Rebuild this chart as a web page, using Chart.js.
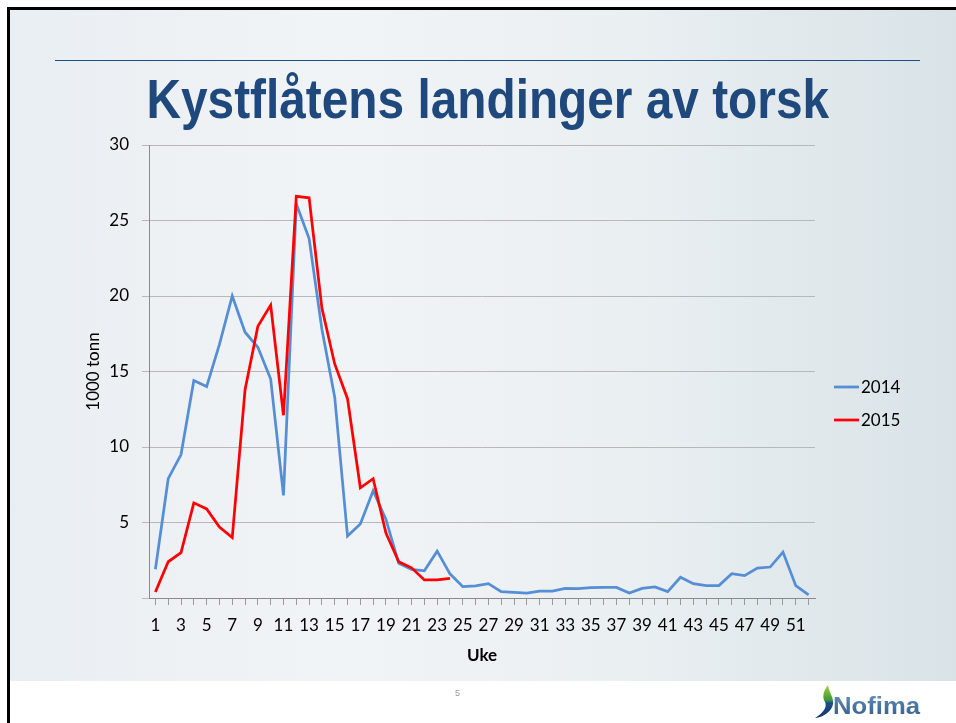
<!DOCTYPE html>
<html lang="no">
<head>
    <meta charset="UTF-8">
    <title>Kystflåtens landinger av torsk</title>
    <script src="https://cdn.jsdelivr.net/npm/chart.js"></script>
    <style>
        * {
            margin: 0;
            padding: 0;
            box-sizing: border-box;
        }
        body {
            width: 956px;
            height: 723px;
            background: #ffffff;
            position: relative;
            overflow: hidden;
            font-family: 'Liberation Sans', Arial, sans-serif;
        }
        .slide {
            position: absolute;
            left: 10px;
            top: 10px;
            width: 946px;
            height: 671px;
            background: linear-gradient(90deg, #e9eef2 0%, #f1f4f7 35%, #eaeff2 65%, #d9e3e7 100%);
        }
        .frame-top {
            position: absolute;
            left: 7px;
            top: 7px;
            width: 949px;
            height: 3px;
            background: #000;
        }
        .frame-left {
            position: absolute;
            left: 7px;
            top: 7px;
            width: 3px;
            height: 716px;
            background: #000;
        }
        .rule {
            position: absolute;
            left: 55px;
            top: 60px;
            width: 865px;
            height: 1px;
            background: #1f4e85;
        }
        .title {
            position: absolute;
            left: 10px;
            top: 67px;
            width: 956px;
            text-align: center;
            white-space: nowrap;
        }
        .title span {
            display: inline-block;
            font-weight: bold;
            font-size: 55px;
            color: #1f497d;
            transform-origin: center;
        }
        #chart {
            position: absolute;
            left: 0;
            top: 0;
        }
        .page-no {
            position: absolute;
            left: 455px;
            top: 688px;
            font-size: 9px;
            color: #999;
        }
        .logo {
            position: absolute;
            left: 812px;
            top: 683px;
        }
    </style>
</head>
<body>
    <div class="slide"></div>
    <div class="frame-top"></div>
    <div class="frame-left"></div>
    <div class="rule"></div>
    <div class="title"><span id="title">Kystflåtens landinger av torsk</span></div>
    <canvas id="chart" width="956" height="723"></canvas>
    <div class="page-no">5</div>
    <svg class="logo" width="115" height="38" viewBox="0 0 115 38">
        <defs>
            <linearGradient id="sw" x1="0" y1="0" x2="0" y2="1">
                <stop offset="0" stop-color="#a6d23c"/>
                <stop offset="0.45" stop-color="#3f9a3a"/>
                <stop offset="0.55" stop-color="#1b4f8a"/>
                <stop offset="1" stop-color="#0f3668"/>
            </linearGradient>
            <linearGradient id="tx" x1="0" y1="0" x2="0" y2="1">
                <stop offset="0" stop-color="#6a92bb"/>
                <stop offset="1" stop-color="#2f5a8a"/>
            </linearGradient>
        </defs>
        <path d="M16 2 C11 8 10 15 13 19 C15 23 13 29 3 35 C12 34 20 28 21 21 C22 14 17 10 16 2 Z" fill="url(#sw)"/>
        <text x="21" y="31" font-family="Liberation Sans, Arial" font-weight="bold" font-size="24" fill="url(#tx)" textLength="87" lengthAdjust="spacingAndGlyphs">Nofima</text>
    </svg>

    <script>
        // weeks (categories)
        const weeks = ['1', '2', '3', '4', '5', '6', '7', '8', '9', '10',
            '11', '12', '13', '14', '15', '16', '17', '18', '19', '20',
            '21', '22', '23', '24', '25', '26', '27', '28', '29', '30',
            '31', '32', '33', '34', '35', '36', '37', '38', '39', '40',
            '41', '42', '43', '44', '45', '46', '47', '48', '49', '50',
            '51', '52'];

        // landings, 1000 tonn
        const landings2014 = [1.9, 7.9, 9.5, 14.4, 14.0, 16.8, 20.0, 17.6, 16.6, 14.5,
            6.8, 26.1, 23.8, 17.8, 13.3, 4.1, 4.9, 7.1, 5.2, 2.3,
            1.9, 1.8, 3.1, 1.6, 0.75, 0.8, 0.95, 0.42, 0.37, 0.33,
            0.46, 0.46, 0.64, 0.62, 0.68, 0.7, 0.7, 0.33, 0.64, 0.73,
            0.42, 1.37, 0.95, 0.82, 0.82, 1.61, 1.48, 1.98, 2.05, 3.04,
            0.82, 0.2];
        const landings2015 = [0.4, 2.4, 3.0, 6.3, 5.9, 4.7, 4.0, 13.8, 18.0, 19.4,
            12.1, 26.6, 26.5, 19.2, 15.5, 13.2, 7.3, 7.9, 4.3, 2.4,
            2.0, 1.2, 1.2, 1.3];

        // y ticks; the 0 line has no label on the slide
        const yTicks = [0, 5, 10, 15, 20, 25, 30];
        const yLabels = ['', '5', '10', '15', '20', '25', '30'];

        // squeeze the title to the width it has on the slide
        const titleEl = document.getElementById('title');
        titleEl.style.transform = 'scaleX(' + (683 / titleEl.offsetWidth) + ')';

        const tickFont = { family: 'Lato, "Open Sans", sans-serif', size: 17 };

        // legend drawn at fixed spot right of the plot
        const sideLegend = {
            id: 'sideLegend',
            afterDraw(chart) {
                const ctx = chart.ctx;
                const rows = [{ ds: 0, y: 387 }, { ds: 1, y: 420 }];
                ctx.save();
                ctx.font = '17px Lato, "Open Sans", sans-serif';
                ctx.textBaseline = 'middle';
                ctx.fillStyle = '#000';
                rows.forEach(r => {
                    const d = chart.data.datasets[r.ds];
                    ctx.strokeStyle = d.borderColor;
                    ctx.lineWidth = 2.75;
                    ctx.beginPath();
                    ctx.moveTo(834, r.y);
                    ctx.lineTo(859, r.y);
                    ctx.stroke();
                    ctx.fillText(d.label, 861, r.y + 1);
                });
                ctx.restore();
            }
        };

        new Chart(document.getElementById('chart'), {
            type: 'line',
            data: {
                labels: weeks,
                datasets: [{
                    label: '2014',
                    data: landings2014,
                    borderColor: '#558ed5',
                    borderWidth: 2.75,
                    pointRadius: 0,
                    tension: 0,
                    order: 1
                }, {
                    label: '2015',
                    data: landings2015,
                    borderColor: '#ff0000',
                    borderWidth: 2.75,
                    pointRadius: 0,
                    tension: 0,
                    order: 0
                }]
            },
            options: {
                responsive: false,
                animation: false,
                layout: {
                    padding: { left: 80, top: 145, right: 141, bottom: 50 }
                },
                plugins: {
                    legend: { display: false },
                    tooltip: { enabled: false }
                },
                scales: {
                    x: {
                        offset: true,
                        afterFit(scale) { scale.height = 75; },
                        grid: {
                            drawOnChartArea: false,
                            drawTicks: true,
                            tickLength: 7,
                            color: '#9a9a9a'
                        },
                        border: { color: '#8a8a8a', width: 1 },
                        ticks: {
                            autoSkip: false,
                            maxRotation: 0,
                            padding: 10,
                            color: '#000',
                            font: tickFont,
                            callback(value, index) {
                                return index % 2 === 0 ? weeks[index] : '';
                            }
                        },
                        title: {
                            display: true,
                            text: 'Uke',
                            color: '#000',
                            font: { family: 'Lato, "Open Sans", sans-serif', size: 17, weight: 'bold' },
                            padding: { top: 0, bottom: 7 }
                        }
                    },
                    y: {
                        min: 0,
                        max: 30,
                        afterFit(scale) { scale.width = 69; },
                        afterBuildTicks(scale) {
                            scale.ticks = yTicks.map(v => ({ value: v }));
                        },
                        grid: {
                            color: '#b8b8b8',
                            lineWidth: 1,
                            tickLength: 7
                        },
                        border: { color: '#8a8a8a', width: 1 },
                        ticks: {
                            padding: 13,
                            color: '#000',
                            font: tickFont,
                            callback(value, index) {
                                return yLabels[index];
                            }
                        },
                        title: {
                            display: true,
                            text: '1000 tonn',
                            color: '#000',
                            font: { family: 'Lato, "Open Sans", sans-serif', size: 17 },
                            padding: { top: 3, bottom: 0 }
                        }
                    }
                }
            },
            plugins: [sideLegend]
        });
    </script>
</body>
</html>
